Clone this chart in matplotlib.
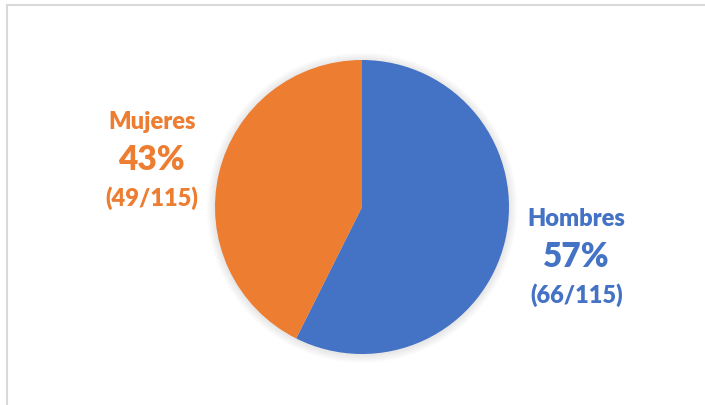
import matplotlib
matplotlib.use("Agg")
import matplotlib.pyplot as plt
from matplotlib.patches import Rectangle, Circle

labels = ["Hombres", "Mujeres"]
counts = [66, 49]
colors = ["#4472C4", "#ED7D31"]
total = sum(counts)

W, H = 705, 405
fig = plt.figure(figsize=(W / 100, H / 100), dpi=100)
fig.patch.set_facecolor("white")

# chart frame (right/bottom edges run off the image)
fig.patches.append(Rectangle((7 / W, -0.1), 1.2, 1 - 5 / H + 0.1, transform=fig.transFigure,
                             fill=False, edgecolor="#D9D9D9", linewidth=1.5))

cx, cy, r = 362, 207, 147
ax = fig.add_axes([(cx - r) / W, (H - cy - r) / H, 2 * r / W, 2 * r / H])

# soft glow around the pie
for i in range(8):
    ax.add_patch(Circle((0, -0.005), 1 + 0.007 * (i + 1), color="black", alpha=0.012,
                        linewidth=0, zorder=0, clip_on=False))

ax.pie(counts, colors=colors, startangle=90, counterclock=False,
       wedgeprops=dict(linewidth=0, zorder=2))
ax.set_xlim(-1, 1)
ax.set_ylim(-1, 1)
ax.set_aspect("equal")
ax.axis("off")

font = "Lato"
label_pos = {"Hombres": (1.46, -0.34), "Mujeres": (-1.43, 0.32)}
for lab, n, col in zip(labels, counts, colors):
    x, y = label_pos[lab]
    pct = round(100 * n / total)
    ax.text(x, y + 0.26, lab, ha="center", va="center", color=col, fontsize=17,
            fontweight="heavy", family=font, clip_on=False)
    ax.text(x, y, f"{pct}%", ha="center", va="center", color=col, fontsize=24,
            fontweight="heavy", family=font, clip_on=False)
    ax.text(x, y - 0.26, f"({n}/{total})", ha="center", va="center", color=col, fontsize=17,
            fontweight="heavy", family=font, clip_on=False)

fig.savefig("out.png", dpi=100)
